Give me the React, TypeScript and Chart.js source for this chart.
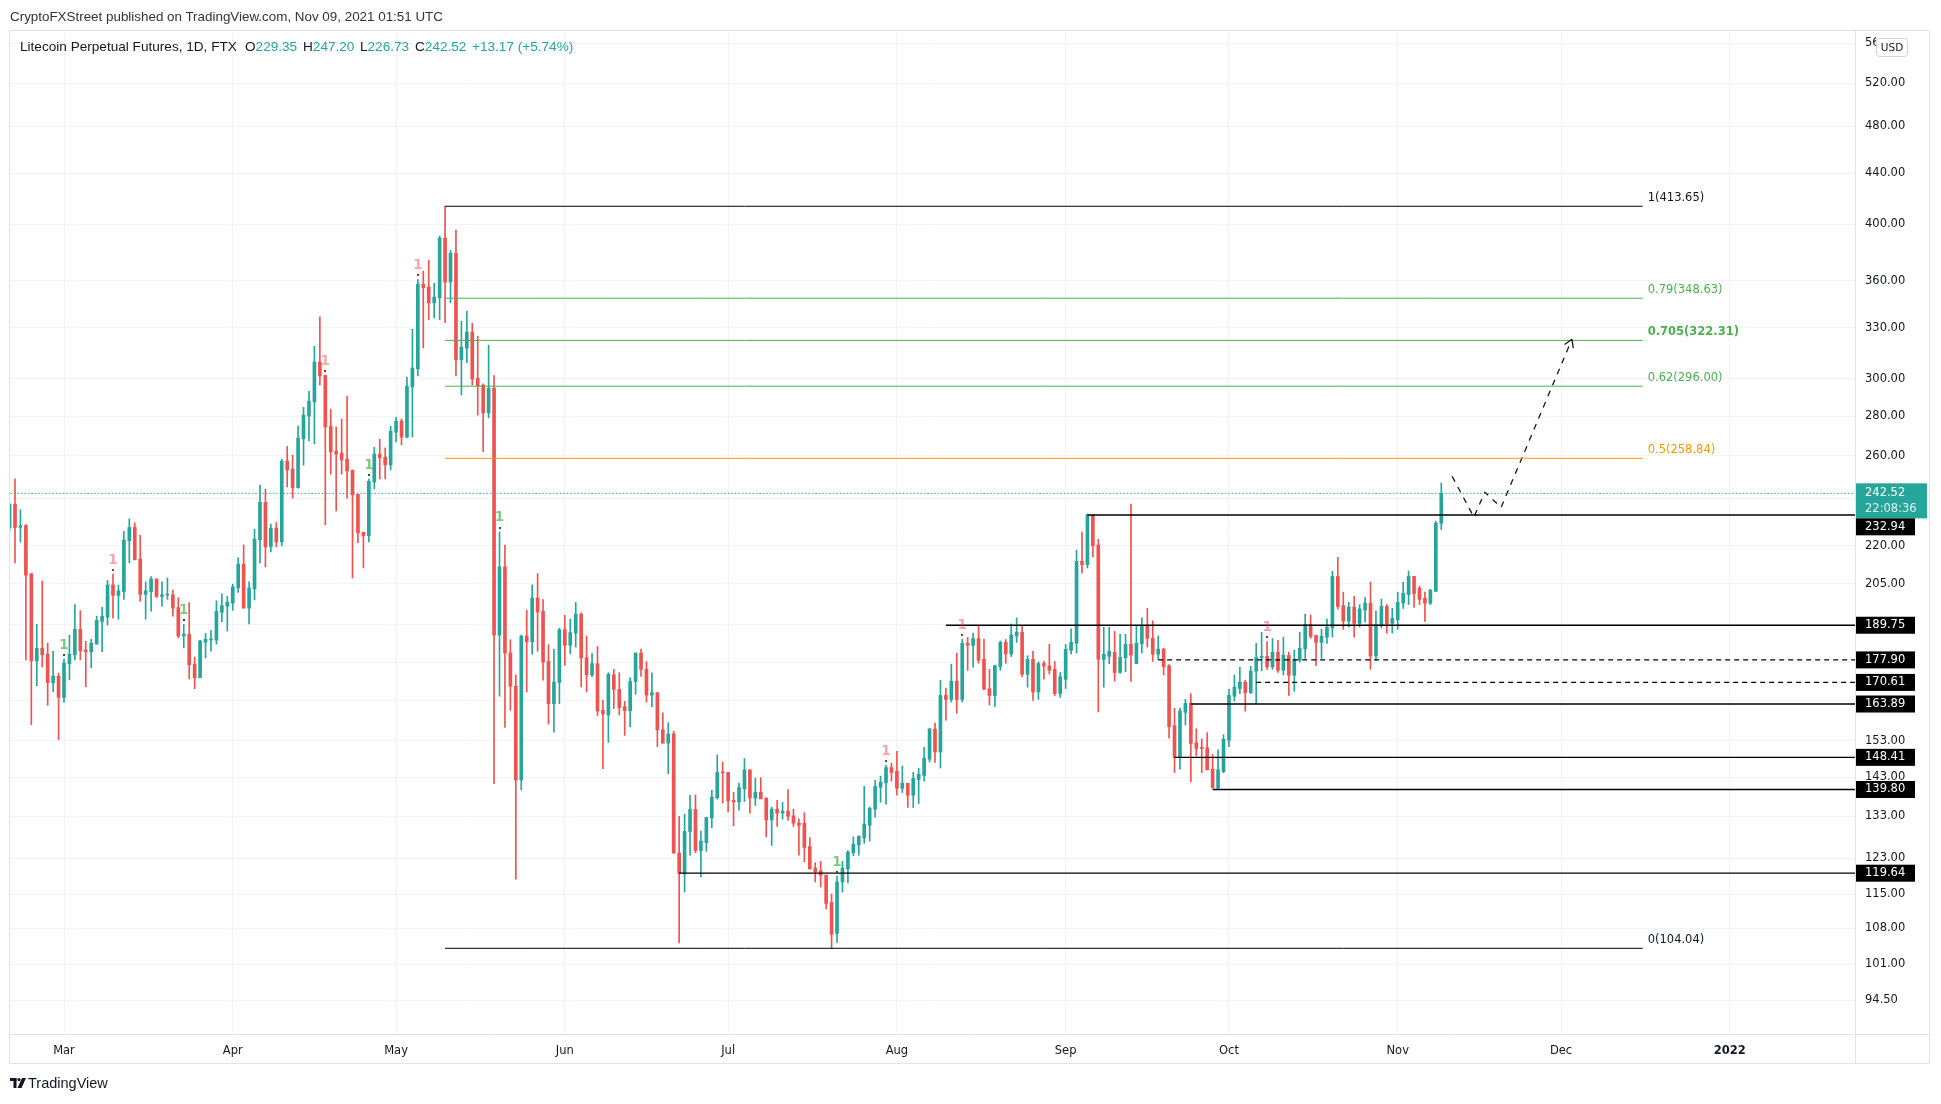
import React, { useEffect, useRef } from 'react';
import { Chart, registerables } from 'chart.js';

Chart.register(...registerables);

// ---------------- data ----------------
const FIRST_DATE = '2021-02-19';

const OPEN = [
  227.4, 237.7, 227.7, 228.4, 208.8, 177.6, 181.8, 179.8, 170.5, 172.6,
  165.9, 176.6, 179.6, 188.3, 181.2, 180.6, 183.2, 191.1, 192.6, 204.5,
  200.6, 202.0, 222.0, 227.6, 214.6, 201.0, 202.0, 206.8, 200.2, 200.7,
  200.8, 196.1, 186.0, 186.6, 176.5, 172.1, 183.9, 184.6, 184.6, 194.4,
  196.6, 197.7, 203.5, 212.6, 195.9, 203.0, 222.4, 238.5, 219.5, 227.3,
  221.6, 257.5, 253.6, 245.0, 268.4, 280.0, 287.5, 309.6, 302.0, 274.8,
  262.3, 261.3, 258.4, 253.2, 242.1, 225.6, 224.1, 247.7, 260.9, 259.4,
  255.7, 271.7, 277.4, 269.3, 295.6, 305.7, 357.8, 355.9, 345.6, 348.9,
  389.9, 359.3, 379.1, 310.9, 317.7, 327.3, 300.4, 296.6, 281.7, 294.9,
  186.3, 211.5, 180.2, 169.4, 142.3, 186.0, 184.0, 199.6, 194.7, 177.4,
  164.0, 170.6, 188.2, 182.8, 187.0, 193.7, 178.6, 173.0, 176.6, 162.0,
  160.6, 173.0, 168.4, 163.1, 161.9, 170.9, 180.2, 174.8, 166.6, 167.4,
  156.2, 152.4, 155.0, 124.2, 119.5, 129.3, 134.7, 124.8, 126.6, 132.6,
  137.6, 144.3, 144.3, 137.0, 136.6, 140.0, 145.0, 137.6, 139.1, 137.6,
  132.1, 134.8, 133.8, 134.3, 133.1, 131.3, 131.3, 125.7, 120.8, 120.2,
  119.2, 113.3, 107.0, 117.7, 120.6, 124.3, 126.1, 127.8, 130.8, 134.8,
  140.4, 141.6, 145.6, 144.6, 140.1, 141.4, 138.3, 142.4, 143.5, 147.9,
  156.4, 149.9, 166.5, 165.3, 171.0, 165.3, 183.5, 182.8, 185.1, 178.1,
  168.6, 166.5, 175.7, 183.8, 179.9, 186.0, 187.3, 173.2, 178.1, 167.6,
  176.7, 175.9, 174.8, 167.1, 171.6, 181.1, 183.5, 213.7, 212.4, 232.9,
  220.3, 178.1, 179.1, 180.4, 173.8, 178.6, 183.1, 176.7, 183.4, 189.5,
  185.2, 179.8, 181.5, 176.0, 157.4, 148.4, 161.4, 164.1, 152.5, 151.1,
  151.1, 145.2, 140.2, 144.5, 153.2, 166.3, 168.7, 170.7, 167.4, 174.2,
  178.7, 179.1, 175.6, 180.4, 174.5, 179.4, 172.9, 177.8, 181.6, 190.1,
  186.2, 183.8, 185.6, 188.8, 207.8, 196.8, 191.2, 196.3, 190.4, 195.2,
  197.7, 179.2, 189.8, 196.5, 190.4, 191.7, 197.7, 200.9, 207.8, 203.3,
  199.5, 197.7, 202.1, 229.35,
];

const HIGH = [
  237.9, 249.1, 235.2, 228.8, 208.9, 190.1, 206.0, 183.5, 180.8, 173.6,
  178.2, 186.3, 197.2, 195.0, 184.2, 184.9, 193.0, 196.2, 206.2, 208.7,
  204.5, 226.0, 231.3, 229.6, 224.3, 205.7, 207.7, 206.8, 205.7, 207.2,
  202.6, 199.7, 190.1, 197.9, 178.8, 184.5, 186.9, 188.0, 198.6, 201.2,
  200.2, 204.8, 215.1, 220.3, 205.7, 226.8, 246.3, 244.4, 229.0, 229.8,
  258.4, 264.7, 260.4, 274.8, 284.6, 293.2, 318.9, 336.8, 302.0, 283.6,
  274.3, 278.4, 290.5, 253.2, 242.1, 225.6, 249.0, 264.2, 268.2, 263.9,
  274.8, 279.4, 278.5, 301.0, 329.1, 361.0, 366.6, 374.2, 358.5, 391.3,
  413.65, 381.2, 395.7, 334.1, 340.4, 332.8, 324.9, 297.3, 319.5, 301.9,
  225.7, 220.3, 184.7, 173.0, 186.3, 195.1, 204.6, 208.9, 199.0, 183.0,
  181.4, 188.7, 193.3, 191.9, 198.0, 194.2, 186.0, 180.1, 182.4, 165.0,
  173.7, 174.8, 173.7, 164.7, 172.1, 180.2, 181.5, 177.3, 173.7, 167.4,
  161.2, 158.3, 155.8, 133.0, 133.5, 138.3, 138.4, 129.4, 132.7, 139.6,
  149.1, 147.1, 144.3, 139.1, 141.5, 148.1, 145.0, 142.8, 142.9, 137.6,
  135.3, 137.0, 136.5, 139.8, 134.8, 132.4, 133.9, 127.8, 122.0, 122.3,
  119.2, 115.1, 119.0, 122.3, 124.8, 128.0, 128.3, 140.6, 135.3, 142.2,
  143.3, 146.2, 146.8, 150.1, 146.0, 141.4, 144.3, 145.4, 151.2, 156.7,
  158.2, 171.3, 168.8, 176.5, 180.1, 184.8, 185.5, 187.0, 189.4, 184.8,
  174.8, 176.2, 184.3, 184.8, 190.2, 192.4, 189.5, 179.3, 180.8, 177.3,
  177.4, 183.1, 177.4, 173.8, 183.1, 188.5, 218.2, 225.7, 233.4, 232.9,
  222.6, 189.0, 189.0, 187.6, 186.6, 186.6, 237.7, 189.5, 192.4, 195.8,
  191.3, 186.0, 181.8, 176.4, 162.6, 162.6, 165.3, 167.0, 156.5, 153.6,
  155.4, 149.2, 150.5, 154.8, 168.4, 173.0, 175.5, 171.3, 175.8, 183.5,
  187.3, 184.1, 185.1, 184.5, 185.6, 180.4, 181.2, 187.3, 193.7, 193.4,
  186.2, 188.3, 191.9, 209.8, 215.3, 201.8, 198.0, 200.3, 197.2, 199.9,
  205.6, 194.8, 199.2, 197.2, 195.8, 201.8, 205.5, 209.9, 207.8, 204.0,
  201.8, 202.9, 230.3, 247.2,
];

const LOW = [
  226.0, 213.1, 221.5, 177.9, 157.7, 169.5, 175.6, 163.5, 167.7, 153.4,
  164.4, 171.4, 177.9, 177.9, 169.2, 175.3, 183.2, 180.6, 189.8, 192.3,
  191.9, 199.1, 213.1, 214.3, 198.4, 191.9, 194.8, 199.8, 196.6, 199.1,
  193.0, 185.3, 181.9, 171.7, 168.6, 172.1, 178.6, 180.8, 183.2, 191.0,
  187.7, 195.1, 201.7, 195.9, 190.2, 198.9, 213.0, 211.5, 217.5, 219.5,
  219.9, 245.4, 240.4, 245.0, 255.6, 267.3, 265.9, 296.7, 228.7, 251.3,
  234.7, 251.3, 240.4, 207.2, 221.2, 211.1, 221.6, 244.6, 249.1, 249.1,
  253.3, 266.8, 265.4, 268.8, 269.3, 301.7, 317.9, 334.9, 336.1, 334.9,
  333.2, 345.6, 301.7, 291.2, 309.2, 296.6, 280.5, 262.0, 279.1, 141.3,
  166.3, 156.9, 162.0, 118.3, 139.7, 167.6, 179.8, 180.8, 171.3, 157.9,
  155.5, 164.0, 176.1, 179.9, 182.2, 169.2, 167.6, 172.4, 160.4, 145.3,
  152.6, 162.5, 160.6, 154.6, 157.1, 166.9, 172.5, 164.5, 163.1, 151.4,
  152.4, 144.0, 124.2, 105.1, 115.5, 123.7, 124.3, 118.8, 124.6, 130.2,
  137.3, 136.3, 134.1, 130.7, 134.5, 136.7, 133.8, 135.7, 137.4, 128.0,
  126.0, 130.5, 132.3, 132.0, 130.5, 123.7, 122.2, 120.6, 117.7, 116.6,
  112.0, 104.04, 105.2, 115.5, 117.5, 123.6, 123.7, 126.5, 127.0, 132.8,
  136.5, 136.0, 142.0, 138.3, 139.0, 135.2, 135.2, 136.2, 142.0, 147.1,
  147.0, 145.5, 159.0, 164.5, 161.1, 164.5, 174.5, 175.5, 176.8, 168.3,
  163.6, 163.1, 174.5, 176.8, 179.0, 183.8, 172.4, 169.1, 165.0, 165.3,
  171.6, 173.3, 166.5, 165.9, 168.7, 179.9, 180.2, 209.0, 211.1, 215.5,
  161.5, 169.1, 176.6, 171.0, 173.6, 174.0, 170.9, 176.7, 180.2, 182.2,
  177.4, 178.1, 173.0, 153.8, 144.3, 145.2, 157.6, 141.8, 148.8, 144.3,
  145.0, 140.2, 139.8, 144.2, 151.4, 164.8, 167.1, 161.7, 167.1, 164.1,
  174.3, 174.8, 174.8, 173.8, 173.0, 166.5, 167.8, 177.2, 178.4, 185.2,
  176.0, 178.4, 183.4, 185.6, 195.5, 188.3, 189.1, 185.6, 189.1, 190.8,
  174.8, 177.8, 188.8, 187.0, 187.0, 188.3, 195.8, 197.2, 196.1, 197.2,
  191.1, 197.2, 202.1, 226.73,
];

const CLOSE = [
  237.7, 227.6, 228.3, 208.3, 177.6, 181.8, 179.6, 170.5, 172.6, 165.9,
  176.9, 179.8, 188.3, 180.9, 180.6, 183.5, 191.5, 192.9, 204.5, 200.6,
  202.3, 222.3, 227.6, 214.3, 201.0, 202.3, 206.8, 200.2, 200.8, 200.8,
  195.9, 186.0, 186.6, 176.3, 172.1, 184.3, 184.9, 184.9, 194.7, 196.8,
  198.0, 203.8, 212.6, 195.9, 203.4, 222.7, 238.5, 219.5, 227.3, 221.6,
  257.5, 253.3, 245.0, 268.7, 280.5, 287.8, 309.6, 301.7, 274.4, 262.0,
  260.9, 258.0, 252.8, 241.8, 225.3, 224.1, 248.0, 260.9, 259.1, 255.7,
  272.2, 277.4, 269.3, 296.0, 306.1, 357.8, 355.4, 345.6, 349.3, 389.9,
  359.3, 379.1, 310.9, 318.3, 327.3, 300.0, 296.2, 281.7, 294.9, 186.3,
  211.5, 180.2, 169.4, 142.3, 186.0, 184.0, 199.6, 194.5, 177.2, 164.0,
  170.7, 188.2, 182.8, 187.2, 193.7, 178.6, 173.0, 176.7, 161.8, 160.9,
  173.2, 168.4, 162.8, 161.9, 170.9, 180.2, 174.8, 166.6, 167.4, 156.2,
  152.4, 155.0, 124.2, 119.6, 129.3, 134.7, 124.8, 127.0, 132.7, 137.8,
  144.3, 144.2, 136.9, 136.6, 140.3, 145.0, 137.6, 139.1, 137.4, 132.1,
  134.8, 133.8, 134.3, 133.0, 131.3, 130.8, 125.5, 120.6, 120.0, 119.2,
  113.1, 106.8, 117.7, 120.8, 124.4, 126.3, 128.1, 131.1, 135.0, 140.6,
  141.7, 145.6, 144.3, 140.1, 141.4, 138.3, 142.7, 143.8, 148.2, 156.4,
  149.9, 166.5, 165.3, 171.0, 165.3, 183.5, 182.8, 185.1, 177.8, 168.5,
  166.5, 176.0, 183.8, 179.9, 186.3, 187.3, 173.2, 178.1, 167.6, 176.7,
  175.9, 174.5, 167.1, 172.4, 181.4, 183.8, 213.7, 212.4, 232.9, 220.0,
  178.1, 179.8, 180.7, 173.8, 178.7, 183.1, 179.5, 183.5, 189.5, 185.2,
  179.8, 181.5, 175.7, 157.1, 148.4, 161.8, 164.1, 152.3, 150.9, 150.9,
  145.0, 140.2, 145.0, 153.5, 166.6, 169.1, 170.7, 167.4, 174.2, 178.7,
  179.1, 175.6, 180.4, 174.5, 179.4, 172.9, 178.1, 181.8, 190.1, 185.9,
  183.8, 185.9, 189.0, 207.8, 196.5, 191.2, 196.3, 190.4, 195.6, 197.7,
  179.2, 190.1, 196.5, 190.2, 192.2, 198.0, 201.3, 207.8, 201.3, 199.1,
  197.7, 202.5, 229.35, 242.52,
];

const MONTH_TICK_DATES = [
  '2021-03-01', '2021-04-01', '2021-05-01', '2021-06-01', '2021-07-01', '2021-08-01',
  '2021-09-01', '2021-10-01', '2021-11-01', '2021-12-01', '2022-01-01',
];
const MONTH_TICK_LABELS = ['Mar', 'Apr', 'May', 'Jun', 'Jul', 'Aug', 'Sep', 'Oct', 'Nov', 'Dec', '2022'];

const PRICE_TICKS = [94.5, 101, 108, 115, 123, 133, 143, 153, 165, 177, 190, 205, 220, 240, 260, 280, 300, 330, 360, 400, 440, 480, 520, 560];
const PRICE_TICKS_HIDDEN = [165, 177, 190, 240];

const FIB_RATIOS = ['1', '0.79', '0.705', '0.62', '0.5', '0'];
const FIB_PRICES = [413.65, 348.63, 322.31, 296.0, 258.84, 104.04];
const FIB_COLORS = ['#131722', '#4caf50', '#4caf50', '#4caf50', '#ff9800', '#131722'];
const FIB_FROM = '2021-05-10';
const FIB_TO = '2021-12-16';

const LEVEL_PRICES = [232.94, 189.75, 177.9, 170.61, 163.89, 148.41, 139.8, 119.64];
const LEVEL_FROM = ['2021-09-05', '2021-08-10', '2021-09-18', '2021-10-06', '2021-09-24', '2021-09-21', '2021-09-28', '2021-06-22'];
const LEVEL_DASHED = [false, false, true, true, false, false, false, false];

const LAST_PRICE = 242.52;
const LAST_COUNTDOWN = '22:08:36';

const PATH_DATES = ['2021-11-11', '2021-11-15', '2021-11-17', '2021-11-20', '2021-12-03'];
const PATH_PRICES = [250.3, 232.0, 243.0, 236.3, 323.0];

const SETUP_BUY_DATES = ['2021-03-01', '2021-03-23', '2021-04-26', '2021-05-20', '2021-07-21'];
const SETUP_SELL_DATES = ['2021-03-10', '2021-04-18', '2021-05-05', '2021-07-30', '2021-08-13', '2021-10-08'];

// ---------------- helpers / styles ----------------
const UP = '#26a69a';
const DOWN = '#ef5350';
const INK = '#131722';
const GRID = '#f0f3fa';
const FRAME = '#e0e3eb';
const AXIS_FONT = 'DejaVu Sans';
const TEXT_FONT = '"Liberation Sans", Arial, sans-serif';

const REF_DAY = Date.parse('2021-03-01');
const dayOf = (s: string) => Math.round((Date.parse(s) - REF_DAY) / 86400000);

const overlayPlugin = {
  id: 'overlay',
  afterDatasetsDraw(chart: any) {
    const { ctx, chartArea: a, scales } = chart;
    const xs = scales.x;
    const ys = scales.y;
    const base = dayOf(FIRST_DATE);
    ctx.save();
    ctx.beginPath();
    ctx.rect(a.left, a.top, a.right - a.left, a.bottom - a.top);
    ctx.clip();

    // TD setup "1" markers
    const mark = (dates: string[], color: string, dot: string) => {
      dates.forEach((d) => {
        const i = dayOf(d) - base;
        const px = xs.getPixelForValue(dayOf(d));
        const py = ys.getPixelForValue(HIGH[i]);
        ctx.fillStyle = dot;
        ctx.fillRect(Math.round(px) - 1, Math.round(py) - 5, 2, 2);
        ctx.fillStyle = color;
        ctx.font = `bold 13.5px ${AXIS_FONT}`;
        ctx.textAlign = 'center';
        ctx.textBaseline = 'middle';
        ctx.fillText('1', px, py - 14);
      });
    };
    mark(SETUP_SELL_DATES, 'rgba(242,54,69,0.45)', '#b22833');
    mark(SETUP_BUY_DATES, 'rgba(76,175,80,0.7)', '#1b5e20');

    // fib labels
    const fx = xs.getPixelForValue(dayOf(FIB_TO)) + 5;
    FIB_PRICES.forEach((p, k) => {
      ctx.fillStyle = FIB_COLORS[k];
      ctx.font = `${k === 2 ? 'bold ' : ''}11.5px ${AXIS_FONT}`;
      ctx.textAlign = 'left';
      ctx.textBaseline = 'middle';
      ctx.fillText(`${FIB_RATIOS[k]}(${p.toFixed(2)})`, fx, ys.getPixelForValue(p) - 8);
    });

    // arrow head of projected path
    const n = PATH_DATES.length;
    const tx = xs.getPixelForValue(dayOf(PATH_DATES[n - 1]));
    const ty = ys.getPixelForValue(PATH_PRICES[n - 1]);
    const sx = xs.getPixelForValue(dayOf(PATH_DATES[n - 2]));
    const sy = ys.getPixelForValue(PATH_PRICES[n - 2]);
    const ang = Math.atan2(ty - sy, tx - sx);
    ctx.strokeStyle = INK;
    ctx.lineWidth = 1.3;
    ctx.setLineDash([]);
    ctx.beginPath();
    [-1, 1].forEach((s) => {
      ctx.moveTo(tx, ty);
      ctx.lineTo(tx - 9 * Math.cos(ang + s * 0.55), ty - 9 * Math.sin(ang + s * 0.55));
    });
    ctx.stroke();
    ctx.restore();
  },
  afterDraw(chart: any) {
    const { ctx, chartArea: a, scales } = chart;
    const ys = scales.y;
    const outerRight = a.right + 75;
    const outerBottom = a.bottom + 30;
    ctx.save();
    // frame
    ctx.strokeStyle = FRAME;
    ctx.lineWidth = 1;
    ctx.beginPath();
    ctx.moveTo(a.left - 0.5, a.top - 0.5);
    ctx.lineTo(outerRight - 0.5, a.top - 0.5);
    ctx.lineTo(outerRight - 0.5, outerBottom - 0.5);
    ctx.lineTo(a.left - 0.5, outerBottom - 0.5);
    ctx.closePath();
    ctx.moveTo(a.right + 0.5, a.top - 0.5);
    ctx.lineTo(a.right + 0.5, outerBottom - 0.5);
    ctx.moveTo(a.left - 0.5, a.bottom + 0.5);
    ctx.lineTo(outerRight - 0.5, a.bottom + 0.5);
    ctx.stroke();

    // price labels on the axis
    ctx.font = `11.5px ${AXIS_FONT}`;
    ctx.textAlign = 'left';
    ctx.textBaseline = 'middle';
    const yl = ys.getPixelForValue(LAST_PRICE);
    ctx.fillStyle = UP;
    ctx.fillRect(a.right + 1, yl - 10, 71, 35);
    ctx.fillStyle = '#ffffff';
    ctx.fillText(LAST_PRICE.toFixed(2), a.right + 10, yl);
    ctx.fillStyle = 'rgba(255,255,255,0.85)';
    ctx.fillText(LAST_COUNTDOWN, a.right + 10, yl + 16);
    let prevBottom = yl + 25;
    const items = LEVEL_PRICES.map((p) => ({ p, y: ys.getPixelForValue(p) })).sort((u, v) => u.y - v.y);
    items.forEach((it) => {
      let top = it.y - 8.5;
      if (top < prevBottom) top = prevBottom;
      ctx.fillStyle = '#000000';
      ctx.fillRect(a.right + 1, top, 59, 17);
      ctx.fillStyle = '#ffffff';
      ctx.fillText(it.p.toFixed(2), a.right + 10, top + 8.5);
      prevBottom = top + 17;
    });

    // currency badge (covers most of the top tick label)
    const bx = a.right + 21;
    const by = a.top + 4;
    ctx.fillStyle = '#ffffff';
    ctx.fillRect(bx, by - 2, 36, 24);
    ctx.strokeStyle = '#d1d4dc';
    ctx.beginPath();
    if (ctx.roundRect) ctx.roundRect(bx + 0.5, by + 3.5, 31, 18, 3);
    else ctx.rect(bx + 0.5, by + 3.5, 31, 18);
    ctx.fill();
    ctx.stroke();
    ctx.fillStyle = INK;
    ctx.font = `10.5px ${AXIS_FONT}`;
    ctx.textAlign = 'center';
    ctx.fillText('USD', bx + 16, by + 13);
    ctx.restore();
  },
};

function buildConfig(): any {
  const base = dayOf(FIRST_DATE);
  const xsVals = OPEN.map((_, i) => base + i);
  const colors = OPEN.map((o, i) => (CLOSE[i] >= o ? UP : DOWN));
  const datasets: any[] = [];

  datasets.push({
    type: 'bar',
    label: 'wicks',
    data: xsVals.map((x, i) => ({ x, y: [LOW[i], HIGH[i]] })),
    backgroundColor: colors,
    borderWidth: 0,
    barThickness: 1,
    grouped: false,
    order: 3,
  });
  datasets.push({
    type: 'bar',
    label: 'bodies',
    data: xsVals.map((x, i) => ({ x, y: [OPEN[i], CLOSE[i]] })),
    backgroundColor: colors,
    borderWidth: 0,
    barThickness: 3,
    minBarLength: 1,
    grouped: false,
    order: 2,
  });

  const line = (pts: any[], color: string, width: number, dash: number[] = []) => ({
    type: 'line',
    data: pts,
    borderColor: color,
    borderWidth: width,
    borderDash: dash,
    pointRadius: 0,
    fill: false,
    tension: 0,
    order: 1,
  });

  // current price dotted line
  datasets.push(line([{ x: base - 5, y: LAST_PRICE }, { x: 400, y: LAST_PRICE }], UP, 1, [1.5, 2]));

  // fibonacci retracement levels
  FIB_PRICES.forEach((p, k) => {
    datasets.push(line([{ x: dayOf(FIB_FROM), y: p }, { x: dayOf(FIB_TO), y: p }], FIB_COLORS[k] === INK ? '#000000' : FIB_COLORS[k], 1));
  });

  // support / resistance levels
  LEVEL_PRICES.forEach((p, k) => {
    datasets.push(line([{ x: dayOf(LEVEL_FROM[k]), y: p }, { x: 400, y: p }], '#000000', 1.3, LEVEL_DASHED[k] ? [5, 4] : []));
  });

  // projected path
  datasets.push(line(PATH_DATES.map((d, k) => ({ x: dayOf(d), y: PATH_PRICES[k] })), INK, 1.3, [6, 6]));

  return {
    type: 'bar',
    data: { datasets },
    plugins: [overlayPlugin],
    options: {
      responsive: false,
      maintainAspectRatio: false,
      devicePixelRatio: 1,
      animation: false,
      events: [],
      layout: { padding: { left: 10, top: 31, right: 11, bottom: 40 } },
      plugins: { legend: { display: false }, tooltip: { enabled: false }, title: { display: false } },
      scales: {
        x: {
          type: 'linear',
          min: -9.92,
          max: 329,
          offset: false,
          afterBuildTicks: (s: any) => {
            s.ticks = MONTH_TICK_DATES.map((d) => ({ value: dayOf(d) }));
          },
          afterFit: (s: any) => {
            s.height = 30;
          },
          grid: { color: GRID, drawTicks: false, offset: false },
          border: { display: false },
          ticks: {
            padding: 10,
            maxRotation: 0,
            autoSkip: false,
            color: INK,
            font: (c: any) => ({ family: AXIS_FONT, size: 11.5, weight: c.index === MONTH_TICK_LABELS.length - 1 ? 'bold' : 'normal' }),
            callback: (_v: any, i: number) => MONTH_TICK_LABELS[i],
          },
        },
        y: {
          type: 'logarithmic',
          position: 'right',
          min: 88.71,
          max: 573.1,
          beginAtZero: false,
          afterBuildTicks: (s: any) => {
            s.ticks = PRICE_TICKS.map((v) => ({ value: v }));
          },
          afterFit: (s: any) => {
            s.width = 75;
          },
          grid: { color: GRID, drawTicks: false },
          border: { display: false },
          ticks: {
            padding: 10,
            autoSkip: false,
            color: INK,
            font: { family: AXIS_FONT, size: 11.5 },
            callback: (v: any) => (PRICE_TICKS_HIDDEN.includes(Number(v)) ? '' : Number(v).toFixed(2)),
          },
        },
      },
    },
  };
}

function Logo() {
  return (
    <svg width="16" height="11" viewBox="0 0 16 11" style={{ position: 'absolute', left: 10, top: 1078 }}>
      <rect x="0" y="0" width="6.5" height="3" fill="#131722" />
      <rect x="3.5" y="0" width="3" height="10" fill="#131722" />
      <circle cx="9" cy="1.6" r="1.6" fill="#131722" />
      <polygon points="12,0 16,0 11.5,10 7.5,10" fill="#131722" />
    </svg>
  );
}

export default function App() {
  const ref = useRef<HTMLCanvasElement>(null);
  useEffect(() => {
    const chart = new Chart(ref.current as HTMLCanvasElement, buildConfig());
    return () => chart.destroy();
  }, []);

  const legendItem = (x: number, key: string, val: string) => (
    <span style={{ position: 'absolute', left: x, top: 0 }}>
      <span style={{ color: INK }}>{key}</span>
      <span style={{ color: UP }}>{val}</span>
    </span>
  );

  return (
    <div style={{ position: 'absolute', left: 0, top: 0, width: 1941, height: 1104, background: '#ffffff', overflow: 'hidden' }}>
      <canvas ref={ref} width={1941} height={1104} style={{ position: 'absolute', left: 0, top: 0, width: 1941, height: 1104 }} />
      <div style={{ position: 'absolute', left: 10, top: 8, font: `13.4px ${TEXT_FONT}`, lineHeight: '18px', color: '#333333', whiteSpace: 'nowrap' }}>
        CryptoFXStreet published on TradingView.com, Nov 09, 2021 01:51 UTC
      </div>
      <div style={{ position: 'absolute', left: 20, top: 38, height: 18, width: 700, font: `13.6px ${TEXT_FONT}`, lineHeight: '18px', whiteSpace: 'nowrap' }}>
        <span style={{ position: 'absolute', left: 0, top: 0, color: INK }}>Litecoin Perpetual Futures, 1D, FTX</span>
        {legendItem(225, 'O', '229.35')}
        {legendItem(283, 'H', '247.20')}
        {legendItem(340, 'L', '226.73')}
        {legendItem(395, 'C', '242.52')}
        <span style={{ position: 'absolute', left: 452, top: 0, color: UP }}>+13.17 (+5.74%)</span>
      </div>
      <Logo />
      <div style={{ position: 'absolute', left: 28, top: 1074, font: `500 14.5px ${TEXT_FONT}`, lineHeight: '18px', color: INK, whiteSpace: 'nowrap' }}>
        TradingView
      </div>
    </div>
  );
}
